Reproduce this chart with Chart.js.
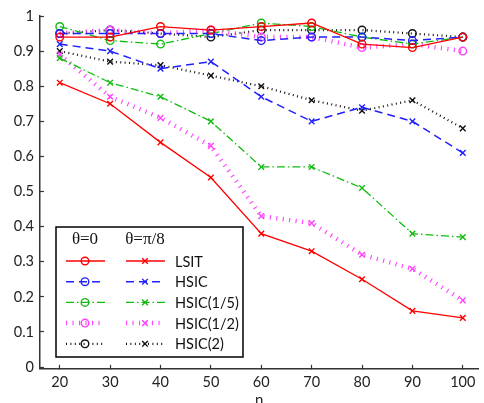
<!DOCTYPE html>
<html>
<head>
<meta charset="utf-8">
<title>LSIT vs HSIC</title>
<script src="https://cdn.jsdelivr.net/npm/chart.js@4.4.1/dist/chart.umd.min.js"></script>
<style>
  html, body { margin: 0; padding: 0; background: #fff; }
  #wrap { position: relative; width: 484px; height: 403px; }
</style>
</head>
<body>
<div id="wrap"><canvas id="myChart"></canvas></div>
<script>
/* globals Chart:false */
'use strict'

const sampleSizes = [20, 30, 40, 50, 60, 70, 80, 90, 100]
const methodNames = ['LSIT', 'HSIC', 'HSIC(1/5)', 'HSIC(1/2)', 'HSIC(2)']
const thetaHeaders = ['θ=0', 'θ=π/8']
const yTickValues = [0, 0.1, 0.2, 0.3, 0.4, 0.5, 0.6, 0.7, 0.8, 0.9, 1]

// theta = 0
const lsitTheta0 = [0.94, 0.94, 0.97, 0.96, 0.97, 0.98, 0.92, 0.91, 0.94]
const hsicTheta0 = [0.95, 0.95, 0.95, 0.95, 0.93, 0.94, 0.94, 0.93, 0.94]
const hsic15Theta0 = [0.97, 0.93, 0.92, 0.95, 0.98, 0.97, 0.94, 0.92, 0.94]
const hsic12Theta0 = [0.95, 0.96, 0.95, 0.96, 0.94, 0.94, 0.91, 0.92, 0.90]
const hsic2Theta0 = [0.95, 0.96, 0.95, 0.94, 0.96, 0.96, 0.96, 0.95, 0.94]

// theta = pi/8
const lsitTheta8 = [0.81, 0.75, 0.64, 0.54, 0.38, 0.33, 0.25, 0.16, 0.14]
const hsicTheta8 = [0.92, 0.90, 0.85, 0.87, 0.77, 0.70, 0.74, 0.70, 0.61]
const hsic15Theta8 = [0.88, 0.81, 0.77, 0.70, 0.57, 0.57, 0.51, 0.38, 0.37]
const hsic12Theta8 = [0.89, 0.77, 0.71, 0.63, 0.43, 0.41, 0.32, 0.28, 0.19]
const hsic2Theta8 = [0.90, 0.87, 0.86, 0.83, 0.80, 0.76, 0.73, 0.76, 0.68]

;(() => {
  // one line style per method, shared by both theta values
  const lineStyles = [
    { color: '#ff0000', dash: [], width: 1.3 },
    { color: '#2020ff', dash: [8, 5], width: 1.5 },
    { color: '#10bb10', dash: [8, 3, 1.5, 3], width: 1.3 },
    { color: '#ff40ff', dash: [1.1, 5.4], width: 4.5 },
    { color: '#111111', dash: [1, 3.4], width: 2.2 }
  ]

  const series = [
    [lsitTheta0, hsicTheta0, hsic15Theta0, hsic12Theta0, hsic2Theta0],
    [lsitTheta8, hsicTheta8, hsic15Theta8, hsic12Theta8, hsic2Theta8]
  ]

  const datasets = []
  series.forEach((group, g) => {
    group.forEach((values, m) => {
      const st = lineStyles[m]
      datasets.push({
        label: methodNames[m] + ' ' + thetaHeaders[g],
        data: values.map((v, i) => ({ x: sampleSizes[i], y: v })),
        borderColor: st.color,
        borderDash: st.dash,
        borderWidth: st.width,
        borderCapStyle: 'butt',
        tension: 0,
        fill: false,
        pointStyle: g === 0 ? 'circle' : 'crossRot',
        pointRadius: g === 0 ? 3.8 : 4,
        pointBorderWidth: 1.4,
        pointBorderColor: st.color,
        pointBackgroundColor: 'rgba(0,0,0,0)',
        pointHoverRadius: 4
      })
    })
  })

  // boxed legend: theta=0 markers in the first column, theta=pi/8 in the second
  const legendBox = { left: 56, top: 227, right: 243, bottom: 357 }
  const boxLegend = {
    id: 'boxLegend',
    afterDatasetsDraw (chart) {
      const { ctx } = chart
      const b = legendBox
      ctx.save()
      ctx.fillStyle = '#fff'
      ctx.fillRect(b.left, b.top, b.right - b.left, b.bottom - b.top)
      ctx.strokeStyle = '#000'
      ctx.lineWidth = 1.5
      ctx.strokeRect(b.left, b.top, b.right - b.left, b.bottom - b.top)

      const colCenters = [85, 145]
      ctx.fillStyle = '#111'
      ctx.font = '17px "Liberation Serif", serif'
      ctx.textAlign = 'center'
      ctx.textBaseline = 'middle'
      thetaHeaders.forEach((t, c) => ctx.fillText(t, colCenters[c], b.top + 13))

      ctx.font = '14.5px Lato, sans-serif'
      ctx.textAlign = 'left'
      methodNames.forEach((name, m) => {
        const y = b.top + 34 + m * 20.7
        for (let c = 0; c < 2; c++) {
          const ds = chart.data.datasets[c * methodNames.length + m]
          const cx = colCenters[c]
          ctx.save()
          ctx.strokeStyle = ds.borderColor
          ctx.lineWidth = ds.borderWidth
          ctx.lineCap = 'butt'
          ctx.setLineDash(ds.borderDash)
          ctx.beginPath()
          ctx.moveTo(cx - 19, y)
          ctx.lineTo(cx + 20, y)
          ctx.stroke()
          ctx.restore()
          ctx.save()
          ctx.strokeStyle = ds.pointBorderColor
          ctx.fillStyle = ds.pointBackgroundColor
          ctx.lineWidth = ds.pointBorderWidth
          Chart.helpers.drawPoint(ctx, { pointStyle: ds.pointStyle, radius: ds.pointRadius, borderWidth: ds.pointBorderWidth, rotation: 0 }, cx, y)
          ctx.restore()
        }
        ctx.fillStyle = '#111'
        ctx.fillText(name, 175, y + 1)
      })
      ctx.restore()
    }
  }

  const tickFont = { family: 'Lato, sans-serif', size: 14.5 }
  const axisColor = '#333'

  const ctx = document.getElementById('myChart')
  // eslint-disable-next-line no-unused-vars
  const myChart = new Chart(ctx, {
    type: 'line',
    data: { datasets },
    options: {
      responsive: true,
      maintainAspectRatio: false,
      animation: false,
      layout: { padding: { top: 16, left: 0, right: 0, bottom: 0 } },
      scales: {
        x: {
          type: 'linear',
          min: 16.08,
          max: 103.14,
          afterBuildTicks: (scale) => { scale.ticks = sampleSizes.map(v => ({ value: v })) },
          afterFit: (scale) => { scale.height = 34.2; scale.paddingLeft = 0; scale.paddingRight = 0 },
          border: { color: axisColor, width: 1.5 },
          grid: { drawOnChartArea: false, drawTicks: true, tickLength: -4, tickWidth: 1.2, tickColor: axisColor },
          ticks: { color: '#222', font: tickFont, padding: 9, maxRotation: 0, autoSkip: false },
          title: { display: true, text: 'n', color: '#222', font: { family: 'Lato, sans-serif', size: 15 }, padding: { top: 0, bottom: -6 } }
        },
        y: {
          min: -0.005,
          max: 1,
          afterBuildTicks: (scale) => { scale.ticks = yTickValues.map(v => ({ value: v })) },
          afterFit: (scale) => { scale.width = 40; scale.paddingTop = 0; scale.paddingBottom = 0 },
          border: { color: axisColor, width: 1.5 },
          grid: { drawOnChartArea: false, drawTicks: true, tickLength: -4, tickWidth: 1.2, tickColor: axisColor },
          ticks: {
            color: '#222',
            font: tickFont,
            padding: 10,
            autoSkip: false,
            callback: (v) => String(Number(v.toFixed(1)))
          }
        }
      },
      plugins: {
        legend: { display: false },
        tooltip: { enabled: false }
      }
    },
    plugins: [boxLegend]
  })
})()
</script>
</body>
</html>
